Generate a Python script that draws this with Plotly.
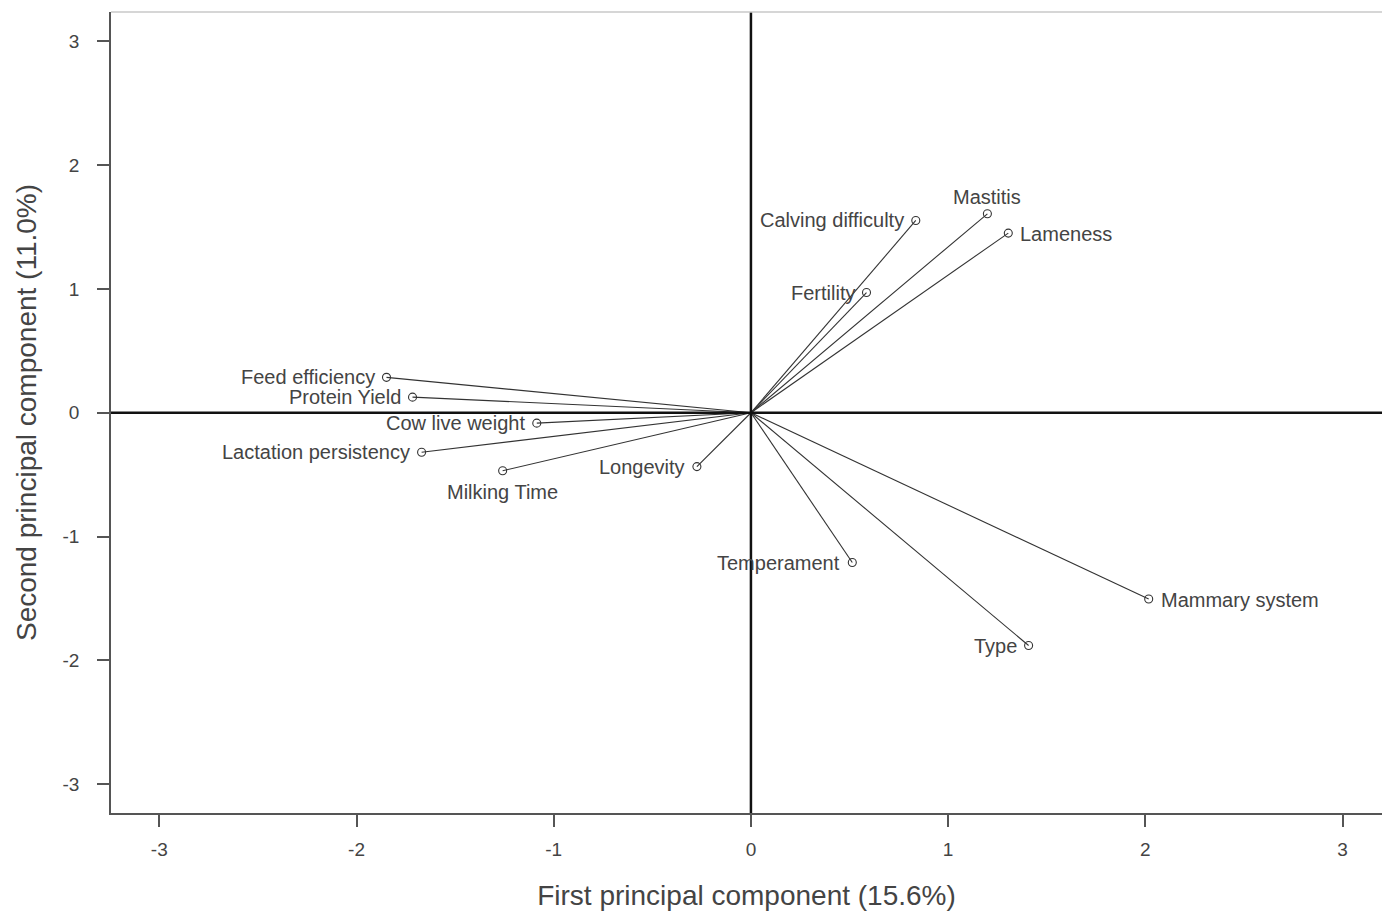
import plotly.graph_objects as go

traits = ["Calving difficulty", "Mastitis", "Lameness", "Fertility",
          "Feed efficiency", "Protein Yield", "Cow live weight",
          "Lactation persistency", "Milking Time", "Longevity",
          "Temperament", "Mammary system", "Type"]
pc1 = [0.836, 1.199, 1.305, 0.586, -1.848, -1.716, -1.086,
       -1.670, -1.259, -0.274, 0.514, 2.017, 1.408]
pc2 = [1.553, 1.607, 1.451, 0.971, 0.286, 0.126, -0.084,
       -0.319, -0.468, -0.435, -1.210, -1.505, -1.880]
label_side = ["left", "above", "right", "left", "left", "left", "left",
              "left", "below", "left", "left", "right", "left"]

tick_vals = [-3, -2, -1, 0, 1, 2, 3]
tick_text = ["-3", "-2", "-1", "0", "1", "2", "3"]
x_title = "First principal component (15.6%)"
y_title = "Second principal component (11.0%)"

xr = [-3.245, 3.200]
yr = [-3.233, 3.237]

FONT = "Liberation Sans, Arial, sans-serif"
TXT = "#444444"
LINE = "#333333"

fig = go.Figure()

# vectors from origin
lx, ly = [], []
for a, b in zip(pc1, pc2):
    lx += [0, a, None]
    ly += [0, b, None]
fig.add_trace(go.Scatter(x=lx, y=ly, mode="lines",
                         line=dict(color=LINE, width=1.1), hoverinfo="skip",
                         showlegend=False))
fig.add_trace(go.Scatter(x=pc1, y=pc2, mode="markers", text=traits,
                         marker=dict(symbol="circle-open", size=8,
                                     color=LINE, line=dict(width=1.1)),
                         showlegend=False))

for name, a, b, side in zip(traits, pc1, pc2, label_side):
    kw = dict(x=a, y=b, text=name, showarrow=False,
              font=dict(family=FONT, size=20, color=TXT))
    if side == "left":
        kw.update(xanchor="right", yanchor="middle", xshift=-10, yshift=0)
    elif side == "right":
        kw.update(xanchor="left", yanchor="middle", xshift=10, yshift=-1)
    elif side == "above":
        kw.update(xanchor="center", yanchor="bottom", yshift=4)
    else:
        kw.update(xanchor="center", yanchor="top", yshift=-8)
    fig.add_annotation(**kw)

shapes = [
    dict(type="line", xref="paper", yref="y", x0=0, x1=1, y0=0, y1=0,
         line=dict(color="#111111", width=2.5)),
    dict(type="line", xref="x", yref="paper", x0=0, x1=0, y0=0, y1=1,
         line=dict(color="#111111", width=2.5)),
    dict(type="line", xref="paper", yref="paper", x0=0, x1=1, y0=1, y1=1,
         line=dict(color="#c8c8c8", width=1.5)),
]

fig.update_layout(
    width=1382, height=911,
    margin=dict(l=111, r=0, t=12, b=98),
    plot_bgcolor="white", paper_bgcolor="white",
    shapes=shapes,
    font=dict(family=FONT, color=TXT),
    xaxis=dict(range=xr, tickvals=tick_vals, ticktext=tick_text,
               showgrid=False, zeroline=False, showline=True,
               linecolor="#555555", linewidth=1.5,
               ticks="outside", ticklen=12, tickwidth=1.5, tickcolor="#555555",
               tickfont=dict(size=19, color=TXT), ticklabelstandoff=6,
               title=dict(text=x_title, font=dict(size=28, color=TXT),
                          standoff=28)),
    yaxis=dict(range=yr, tickvals=tick_vals, ticktext=tick_text,
               showgrid=False, zeroline=False, showline=True,
               linecolor="#555555", linewidth=1.5,
               ticks="outside", ticklen=12, tickwidth=1.5, tickcolor="#555555",
               tickfont=dict(size=19, color=TXT), ticklabelstandoff=14,
               title=dict(text=y_title, font=dict(size=28, color=TXT),
                          standoff=18)),
)

fig.write_html("out.html",
               config={"displayModeBar": False},
               post_script="document.body.style.margin='0';"
                           "document.body.style.overflow='hidden';")
